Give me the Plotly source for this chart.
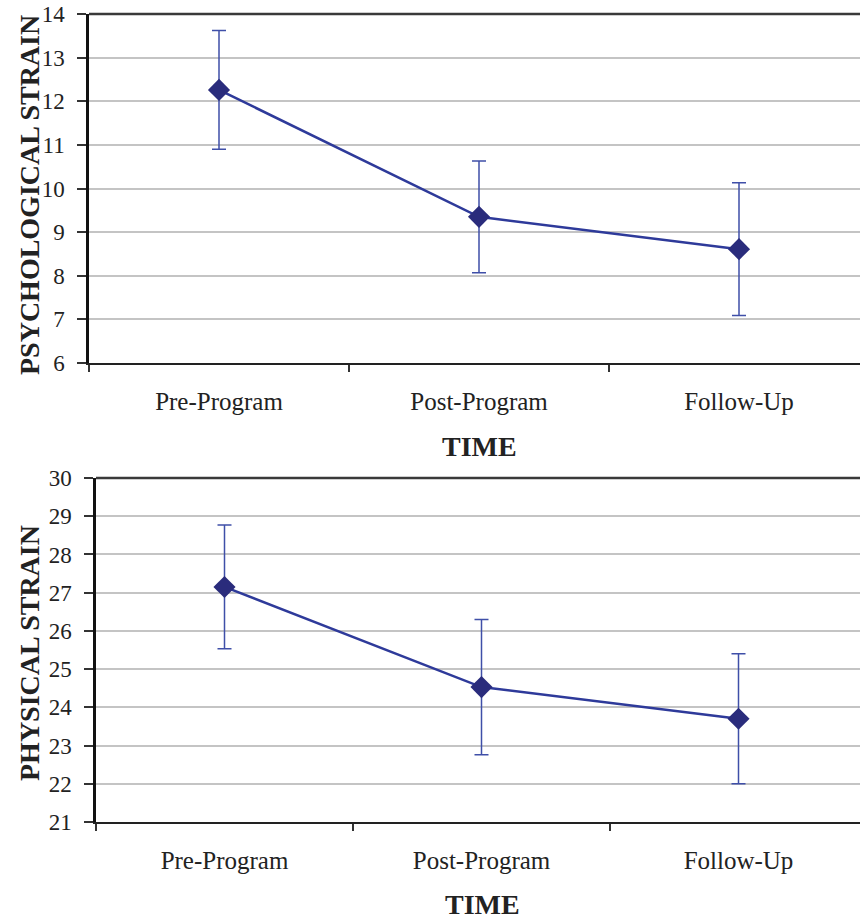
import plotly.graph_objects as go

categories = ["Pre-Program", "Post-Program", "Follow-Up"]

psych_mean = [12.26, 9.35, 8.61]
psych_err = [1.36, 1.28, 1.52]

phys_mean = [27.15, 24.53, 23.70]
phys_err = [1.62, 1.77, 1.70]

psych_ticks = [6, 7, 8, 9, 10, 11, 12, 13, 14]
phys_ticks = [21, 22, 23, 24, 25, 26, 27, 28, 29, 30]

LINE = "#2E3A9A"
MARK = "#2A2C7C"
ERR = "#3F4FA8"
FONT = "Liberation Serif"

# page offset of the figure (body margin removed via post_script)
OFF = 0
W, H = 860, 919
# target page pixel positions from reference
TOP_L, TOP_T, TOP_B = 89, 14, 363
BOT_L, BOT_T, BOT_B = 96, 478, 822

ML = TOP_L - OFF
MT = TOP_T - OFF
MB = H - (BOT_B - OFF)
PH = H - MT - MB
PW = W - ML


def py(page_y):
    return (BOT_B - page_y) / PH


def px(page_x):
    return (page_x - TOP_L) / PW


fig = go.Figure()

fig.add_trace(go.Scatter(
    x=categories, y=psych_mean, mode="lines+markers",
    line=dict(color=LINE, width=2.5),
    marker=dict(symbol="diamond", size=17, color=MARK),
    error_y=dict(type="data", array=psych_err, visible=True, color=ERR, thickness=1.5, width=7),
    xaxis="x", yaxis="y", showlegend=False, cliponaxis=False,
))
fig.add_trace(go.Scatter(
    x=categories, y=phys_mean, mode="lines+markers",
    line=dict(color=LINE, width=2.5),
    marker=dict(symbol="diamond", size=17, color=MARK),
    error_y=dict(type="data", array=phys_err, visible=True, color=ERR, thickness=1.5, width=7),
    xaxis="x2", yaxis="y2", showlegend=False, cliponaxis=False,
))

top_range = [-0.5, -0.5 + PW / 260]
bot_pw = PW - (BOT_L - TOP_L)
bot_range = [-0.5, -0.5 + bot_pw / 257]

xcommon = dict(
    type="category", tickson="boundaries", ticks="outside", ticklen=7,
    tickwidth=1.5, tickcolor="#333333", showline=True, linecolor="#222222",
    linewidth=2, showgrid=False, mirror=False, zeroline=False,
    tickfont=dict(family=FONT, size=25, color="#222222"),
    ticklabelstandoff=15, fixedrange=True, automargin=False,
)
ycommon = dict(
    ticks="outside", ticklen=9, tickwidth=1.5, tickcolor="#333333",
    showline=True, linecolor="#111111", linewidth=2.5,
    showgrid=True, gridcolor="#C4C4C4", gridwidth=1.5, zeroline=False,
    tickfont=dict(family=FONT, size=23, color="#222222"),
    ticklabelstandoff=8, automargin=False, ticklabeloverflow="allow",
    fixedrange=True,
)

fig.update_layout(
    width=W, height=H,
    margin=dict(l=ML, r=0, t=MT, b=MB, autoexpand=False),
    paper_bgcolor="white", plot_bgcolor="white",
    hovermode=False,
    xaxis=dict(domain=[0, 1], range=top_range, anchor="y", **xcommon),
    yaxis=dict(domain=[py(TOP_B), 1], range=[6, 14], tickvals=psych_ticks, anchor="x", **ycommon),
    xaxis2=dict(domain=[px(BOT_L), 1], range=bot_range, anchor="y2", **xcommon),
    yaxis2=dict(domain=[0, py(BOT_T)], range=[21, 30], tickvals=phys_ticks, anchor="x2", **ycommon),
    shapes=[
        dict(type="line", xref="x domain", yref="y domain", x0=0, x1=1, y0=1, y1=1,
             line=dict(color="#3A3A3A", width=2.5)),
        dict(type="line", xref="x2 domain", yref="y2 domain", x0=0, x1=1, y0=1, y1=1,
             line=dict(color="#3A3A3A", width=2.5)),
    ],
    annotations=[
        dict(text="<b>PSYCHOLOGICAL STRAIN</b>", xref="paper", yref="paper",
             x=px(30), y=py(195), textangle=-90, showarrow=False,
             xanchor="center", yanchor="middle",
             font=dict(family=FONT, size=28, color="#222222")),
        dict(text="<b>PHYSICAL STRAIN</b>", xref="paper", yref="paper",
             x=px(29), y=py(653), textangle=-90, showarrow=False,
             xanchor="center", yanchor="middle",
             font=dict(family=FONT, size=28, color="#222222")),
        dict(text="<b>TIME</b>", xref="paper", yref="paper",
             x=px(479), y=py(447), showarrow=False,
             xanchor="center", yanchor="middle",
             font=dict(family=FONT, size=28, color="#222222")),
        dict(text="<b>TIME</b>", xref="paper", yref="paper",
             x=px(482), y=py(904), showarrow=False,
             xanchor="center", yanchor="middle",
             font=dict(family=FONT, size=28, color="#222222")),
    ],
)

fig.write_html(
    "out.html",
    config={"displayModeBar": False},
    post_script="document.body.style.margin='0';document.documentElement.style.margin='0';",
)
